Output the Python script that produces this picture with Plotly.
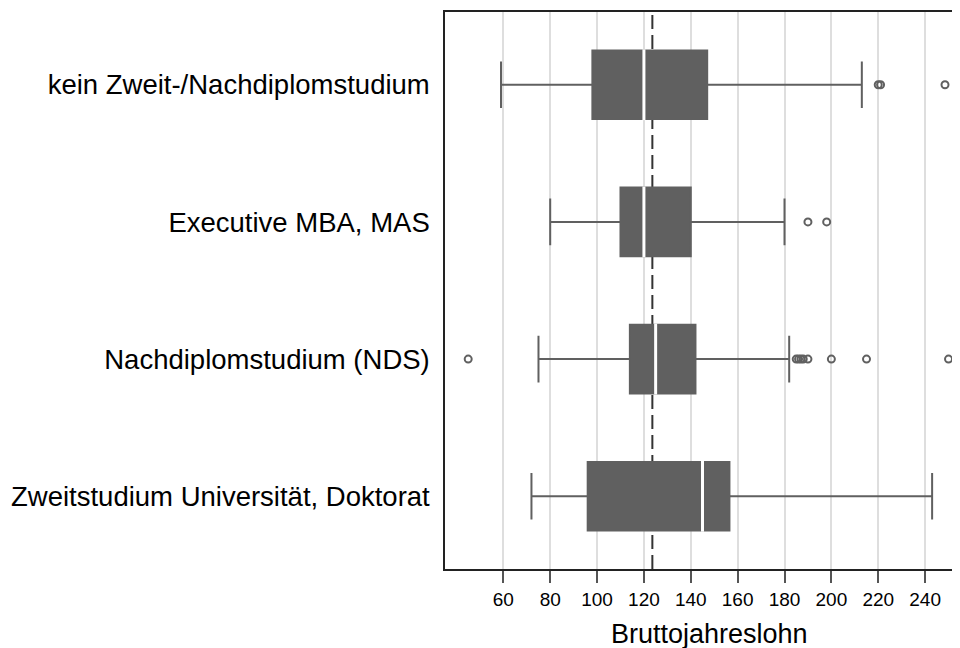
import plotly.graph_objects as go

# ---- data ----
categories = [
    "kein Zweit-/Nachdiplomstudium",
    "Executive MBA, MAS",
    "Nachdiplomstudium (NDS)",
    "Zweitstudium Universität, Doktorat",
]
lower_whisker = [59, 80, 75, 72]
q1_vals = [98, 110, 114, 96]
median_vals = [120, 120, 125, 145]
q3_vals = [147, 140, 142, 156.5]
upper_whisker = [213, 180, 182, 243]
outliers = [
    [220, 221, 248.5],
    [190, 198],
    [45, 185, 186, 187, 188, 190, 200, 215, 250],
    [],
]
overall_median = 123.6
tick_vals = [60, 80, 100, 120, 140, 160, 180, 200, 220, 240]
x_title = "Bruttojahreslohn"

# positions: first category at top
n = len(categories)
pos = [n - 1 - i for i in range(n)]

BOX = "#606060"
FONT = "Liberation Sans, Arial"
fig = go.Figure()

fig.add_trace(go.Box(
    orientation="h",
    y=pos,
    q1=q1_vals,
    median=median_vals,
    q3=q3_vals,
    lowerfence=lower_whisker,
    upperfence=upper_whisker,
    fillcolor=BOX,
    line=dict(color=BOX, width=2),
    width=0.5,
    whiskerwidth=0.68,
    boxpoints=False,
    showlegend=False,
    hoverinfo="skip",
))

# white median gaps
mx, my = [], []
for p, m in zip(pos, median_vals):
    mx += [m, m, None]
    my += [p - 0.258, p + 0.258, None]
fig.add_trace(go.Scatter(x=mx, y=my, mode="lines",
                         line=dict(color="white", width=3),
                         showlegend=False, hoverinfo="skip"))

# outliers
ox, oy = [], []
for p, outs in zip(pos, outliers):
    for v in outs:
        ox.append(v)
        oy.append(p)
fig.add_trace(go.Scatter(x=ox, y=oy, mode="markers",
                         marker=dict(symbol="circle-open", size=7,
                                     color=BOX, line=dict(width=2, color=BOX)),
                         showlegend=False, hoverinfo="skip"))

fig.add_shape(type="line", xref="x", yref="paper",
              x0=overall_median, x1=overall_median, y0=0, y1=1,
              line=dict(color="#333333", width=2, dash="14px,6px"),
              layer="between")

fig.add_annotation(text=x_title, xref="paper", yref="paper",
                   x=0.5145, y=0, yshift=-48, yanchor="top",
                   showarrow=False,
                   font=dict(family=FONT, size=27, color="black"))

fig.update_layout(
    width=952, height=640,
    margin=dict(l=437, r=0, t=4, b=79),
    paper_bgcolor="white", plot_bgcolor="white",
    font=dict(family=FONT, color="black"),
    xaxis=dict(
        range=[35.1, 254.9],
        tickvals=tick_vals,
        ticks="outside", ticklen=12, tickwidth=2, tickcolor="#555555",
        tickfont=dict(size=19, color="black"),
        showgrid=True, gridcolor="#dedede", gridwidth=1.5,
        zeroline=False,
        showline=True, linecolor="#222222", linewidth=1.5, mirror=True,
    ),
    yaxis=dict(
        range=[-0.53, n - 1 + 0.53],
        tickvals=pos,
        ticktext=categories,
        ticks="",
        ticklabelstandoff=8,
        tickfont=dict(size=27.5, color="black"),
        showgrid=False, zeroline=False,
        showline=True, linecolor="#222222", linewidth=1.5, mirror=False,
    ),
)

fig.write_html("out.html")
